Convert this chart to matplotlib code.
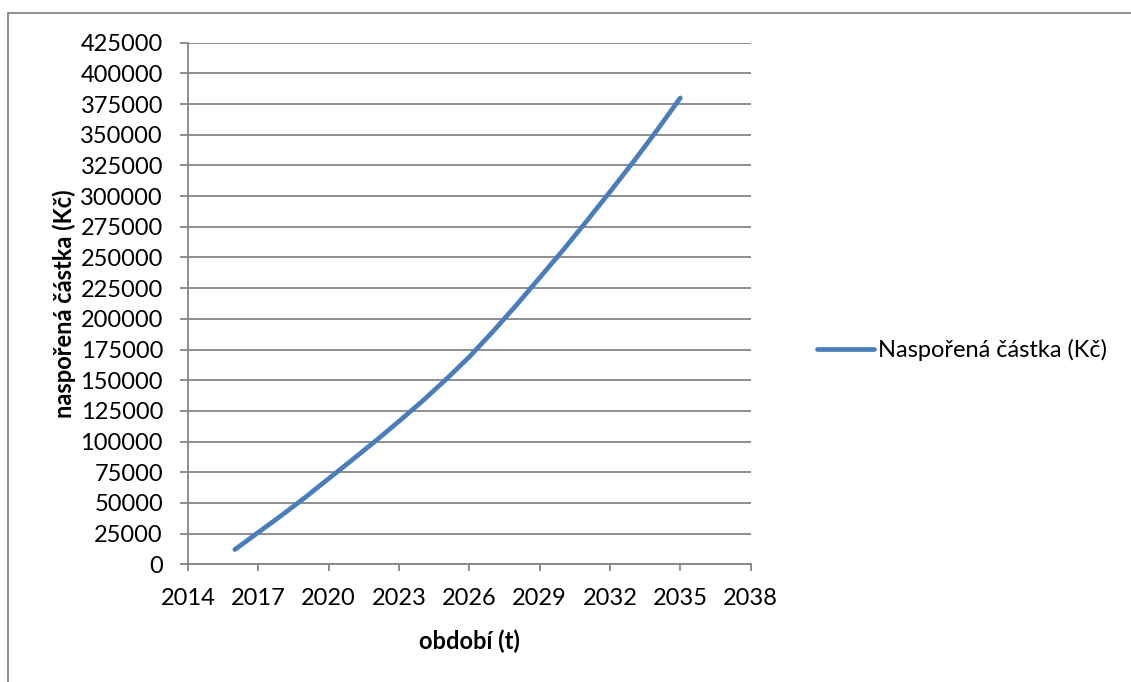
import matplotlib.pyplot as plt
from matplotlib.patches import Rectangle

# Savings balance by year
years = [2016, 2017, 2018, 2019, 2020, 2021, 2022, 2023, 2024, 2025,
         2026, 2027, 2028, 2029, 2030, 2031, 2032, 2033, 2034, 2035]
balance = [12000, 26000, 40000, 54500, 69800, 85000, 100500, 116500, 133000, 150500,
           169000, 189500, 211000, 233500, 256000, 279500, 303500, 328000, 353500, 380000]

x_ticks = list(range(2014, 2039, 3))
y_ticks = list(range(0, 425001, 25000))

series_name = "Naspořená částka (Kč)"
x_label = "období (t)"
y_label = "naspořená částka (Kč)"

plt.rcParams['font.family'] = ['Lato', 'DejaVu Sans']
grid_col = '#868686'
line_col = '#4A7EBB'
fs = 17

fig = plt.figure(figsize=(11.31, 6.82), dpi=100)
ax = fig.add_axes([0.1662, 0.1726, 0.6637 - 0.1662, 0.9374 - 0.1726])

ax.plot(years, balance, color=line_col, lw=3.4, solid_capstyle='round',
        solid_joinstyle='round', label=series_name)

ax.set_xlim(2014, 2038)
ax.set_ylim(0, 425000)
ax.set_xticks(x_ticks)
ax.set_yticks(y_ticks)
ax.grid(axis='y', color=grid_col, lw=1.3)
ax.set_axisbelow(True)

for s in ['top', 'right']:
    ax.spines[s].set_visible(False)
for s in ['left', 'bottom']:
    ax.spines[s].set_color(grid_col)
    ax.spines[s].set_linewidth(1.3)
ax.tick_params(axis='y', length=6, width=1.3, color=grid_col, labelsize=fs, pad=12)
ax.tick_params(axis='x', length=5, width=1.3, color=grid_col, labelsize=fs, pad=12)

ax.set_xlabel(x_label, fontsize=fs, fontweight='bold', labelpad=15)
ax.set_ylabel(y_label, fontsize=fs, fontweight='bold', labelpad=3)

fig.legend(loc='center left', bbox_to_anchor=(817 / 1131, 1 - 350 / 682),
           frameon=False, fontsize=fs, handlelength=2.4, handletextpad=0.2,
           borderpad=0, borderaxespad=0)

# outer chart border (right and bottom edges fall outside the image)
fig.patches.append(Rectangle((8 / 1131, -0.05), 1.2, 1.05 - 13 / 682,
                             transform=fig.transFigure, fill=False,
                             edgecolor=grid_col, lw=1.3, clip_on=False))

fig.savefig('out.png', dpi=100)
